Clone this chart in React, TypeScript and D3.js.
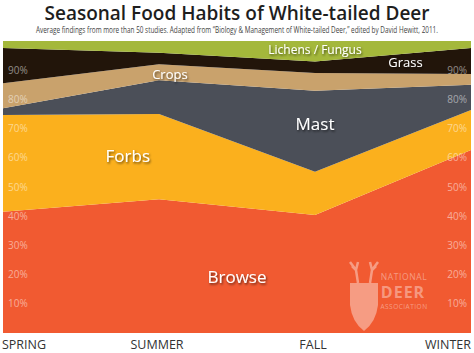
import React from "react";
import * as d3 from "d3";

const seasons = ["SPRING", "SUMMER", "FALL", "WINTER"];
const foods = ["Browse", "Forbs", "Mast", "Crops", "Grass", "Lichens / Fungus"];

// percent of diet per season
const browse = [41.5, 45.8, 40.4, 62.7];
const forbs = [33.2, 29.2, 14.8, 13.7];
const mast = [2.3, 11.6, 27.8, 8.6];
const crops = [8.5, 5.4, 6.0, 3.7];
const grass = [12.1, 4.0, 4.0, 8.9];
const lichens = [2.4, 4.0, 7.0, 2.4];

const yTicks = [10, 20, 30, 40, 50, 60, 70, 80, 90];

const colors = ["#f15a31", "#fbb01d", "#4b4f58", "#c9a26c", "#22150a", "#a4b83b"];

const W = 474;
const H = 353;
const plot = { left: 3, right: 471, top: 41, bottom: 333 };

export default function App() {
  const rows = seasons.map((s, i) => ({
    season: s,
    Browse: browse[i],
    Forbs: forbs[i],
    Mast: mast[i],
    Crops: crops[i],
    Grass: grass[i],
    "Lichens / Fungus": lichens[i],
  }));

  const x = d3.scalePoint().domain(seasons).range([plot.left, plot.right]);
  const y = d3.scaleLinear().domain([0, 100]).range([plot.bottom, plot.top]);

  const series = d3.stack().keys(foods)(rows as any);
  const area = d3
    .area<any>()
    .x((d) => x(d.data.season)!)
    .y0((d) => y(d[0]))
    .y1((d) => y(d[1]));

  const labelStyle = {
    fill: "#fff",
    fontFamily: "Open Sans",
    filter: "url(#shadow)",
  };

  // label positions: season index between points + percent inside band
  const labels = [
    { text: "Browse", at: 1.5, pct: 19, size: 17 },
    { text: "Forbs", at: 0.8, pct: 60.5, size: 17 },
    { text: "Mast", at: 2.0, pct: 71.5, size: 17 },
    { text: "Crops", at: 1.07, pct: 88.5, size: 13 },
    { text: "Grass", at: 2.58, pct: 92.5, size: 13 },
    { text: "Lichens / Fungus", at: 2.0, pct: 97, size: 12 },
  ];
  const step = x.step();

  return (
    <svg width={W} height={H} style={{ position: "absolute", left: 0, top: 0, background: "#fff" }}>
      <defs>
        <filter id="shadow" x="-20%" y="-30%" width="140%" height="160%">
          <feDropShadow dx="1" dy="1.5" stdDeviation="0.8" floodColor="#000" floodOpacity="0.6" />
        </filter>
      </defs>
      <text x={W / 2} y={19.8} textAnchor="middle" fontFamily="Open Sans" fontWeight={600} fontSize={19} fill="#1e1e1e">
        Seasonal Food Habits of White-tailed Deer
      </text>
      {/* condensed subtitle: squeeze horizontally */}
      <g transform={`translate(${W / 2},32.8) scale(0.78,1)`}>
        <text x={0} y={0} textAnchor="middle" fontFamily="Open Sans" fontSize={8.2} fill="#444">
          Average findings from more than 50 studies. Adapted from “Biology &amp; Management of White-tailed Deer,” edited by David Hewitt, 2011.
        </text>
      </g>

      {series.map((s, i) => (
        <path key={s.key} d={area(s as any)!} fill={colors[i]} />
      ))}

      {yTicks.map((t) => (
        <g key={t} fontFamily="Open Sans" fontSize={10} fill="#fff" fillOpacity={0.5}>
          <text x={plot.left + 5} y={y(t)} dy="0.35em">{t}%</text>
          <text x={plot.right - 4} y={y(t)} dy="0.35em" textAnchor="end">{t}%</text>
        </g>
      ))}

      {labels.map((l) => (
        <text
          key={l.text}
          x={plot.left + l.at * step}
          y={y(l.pct)}
          dy="0.35em"
          textAnchor="middle"
          fontSize={l.size}
          style={labelStyle}
        >
          {l.text}
        </text>
      ))}

      {/* watermark */}
      <g fill="#fff" fillOpacity={0.4} fontFamily="Open Sans">
        <path d="M350 283 L378 283 L378 305 Q376 322 364 331 Q352 322 350 305 Z" />
        <path d="M358 283 L356 270 L350 262 M356 270 L352 266 M356 270 L358 262 M370 283 L372 270 L378 262 M372 270 L376 266 M372 270 L370 262" stroke="#fff" strokeOpacity={0.4} strokeWidth={2.5} fill="none" />
        <text x={404} y={280} textAnchor="middle" fontSize={8.5} letterSpacing={0.6}>NATIONAL</text>
        <text x={403} y={298} textAnchor="middle" fontSize={16} fontWeight={700} letterSpacing={1}>DEER</text>
        <text x={404} y={309} textAnchor="middle" fontSize={6.5} letterSpacing={0.5}>ASSOCIATION</text>
      </g>

      {seasons.map((s, i) => (
        <text
          key={s}
          x={i === 0 ? plot.left - 1 : i === seasons.length - 1 ? plot.right : x(s)! - 2}
          y={349}
          textAnchor={i === 0 ? "start" : i === seasons.length - 1 ? "end" : "middle"}
          fontFamily="Open Sans"
          fontSize={12.5}
          fill="#333"
        >
          {s}
        </text>
      ))}
    </svg>
  );
}
